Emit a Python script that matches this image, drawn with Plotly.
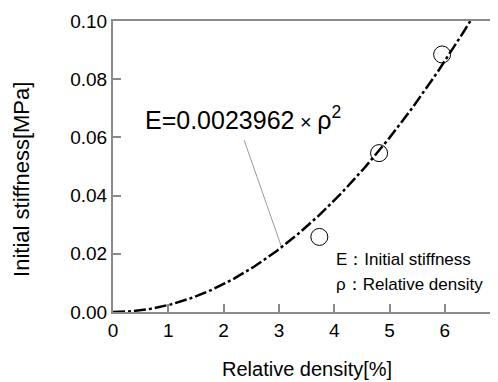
import numpy as np
import plotly.graph_objects as go

# Measured data
density = [3.73, 4.81, 5.95]          # Relative density [%]
stiffness = [0.0258, 0.0546, 0.0885]  # Initial stiffness [MPa]

# Fitted curve E = a * rho^2 (coefficient shown on the chart)
coef = 0.0023962
fit_x = np.linspace(0, 6.5, 200)
fit_y = coef * fit_x ** 2

x_ticks = [0, 1, 2, 3, 4, 5, 6]
y_ticks = [0.00, 0.02, 0.04, 0.06, 0.08, 0.10]

FONT = "Liberation Sans, Arial, sans-serif"
AXC = "#8a8a8a"

fig = go.Figure()
fig.add_trace(go.Scatter(
    x=fit_x, y=fit_y, mode="lines",
    line=dict(color="black", width=2.5, dash="12px,3px,3px,3px"),
    hoverinfo="skip", showlegend=False,
))
fig.add_trace(go.Scatter(
    x=density, y=stiffness, mode="markers",
    marker=dict(symbol="circle-open", size=17, color="black", line=dict(width=1)),
    showlegend=False,
))

# page body has an 8px margin, so the figure is offset by (8, 8)
fig.update_layout(
    width=490, height=374,
    margin=dict(l=105, r=0, t=13, b=70),
    paper_bgcolor="white", plot_bgcolor="white",
    font=dict(family=FONT, color="black"),
    showlegend=False,
)
fig.update_xaxes(
    range=[0, 6.96], tickvals=x_ticks, ticktext=[str(v) for v in x_ticks],
    ticks="inside", ticklen=8, tickwidth=1.5, tickcolor=AXC,
    showline=True, linecolor=AXC, linewidth=2, mirror=True,
    showgrid=False, zeroline=False,
    tickfont=dict(size=19, family=FONT, color="black"),
)
fig.update_yaxes(
    range=[0, 0.1], tickvals=y_ticks, ticktext=[f"{v:.2f}" for v in y_ticks],
    ticks="inside", ticklen=8, tickwidth=1.5, tickcolor=AXC,
    showline=True, linecolor=AXC, linewidth=2, mirror=False,
    showgrid=False, zeroline=False,
    tickfont=dict(size=19, family=FONT, color="black"),
)

# leader line from equation to curve
fig.add_shape(type="line", x0=2.37, y0=0.0591, x1=3.04, y1=0.0227,
              xref="x", yref="y", line=dict(color="#808080", width=0.8))

fig.add_annotation(
    x=2.35, y=0.0666, xref="x", yref="y", showarrow=False,
    text="E=0.0023962<span style='font-size:20px'> × </span>ρ<sup>2</sup>",
    font=dict(size=25, family=FONT, color="black"),
    xanchor="center", yanchor="middle",
)
fig.add_annotation(
    x=4.0, y=0.0179, xref="x", yref="y", showarrow=False,
    text="E：Initial stiffness", font=dict(size=17, family=FONT, color="black"),
    xanchor="left", yanchor="middle",
)
fig.add_annotation(
    x=4.0, y=0.0093, xref="x", yref="y", showarrow=False,
    text="ρ：Relative density", font=dict(size=17, family=FONT, color="black"),
    xanchor="left", yanchor="middle",
)
# partially visible "7" tick label at the cut-off right edge
fig.add_annotation(
    x=7 / 6.96, y=0, xref="paper", yref="paper", showarrow=False,
    text="7", font=dict(size=19, family=FONT, color="black"),
    xanchor="center", yanchor="top", yshift=-6,
)
# axis titles
fig.add_annotation(
    x=0, y=0.454, xref="paper", yref="paper", showarrow=False,
    text="Initial stiffness[MPa]", textangle=-90,
    font=dict(size=22, family=FONT, color="black"),
    xanchor="center", yanchor="middle", xshift=-91,
)
fig.add_annotation(
    x=0.504, y=0, xref="paper", yref="paper", showarrow=False,
    text="Relative density[%]",
    font=dict(size=20, family=FONT, color="black"),
    xanchor="center", yanchor="middle", yshift=-57,
)

fig.write_html("out.html")
